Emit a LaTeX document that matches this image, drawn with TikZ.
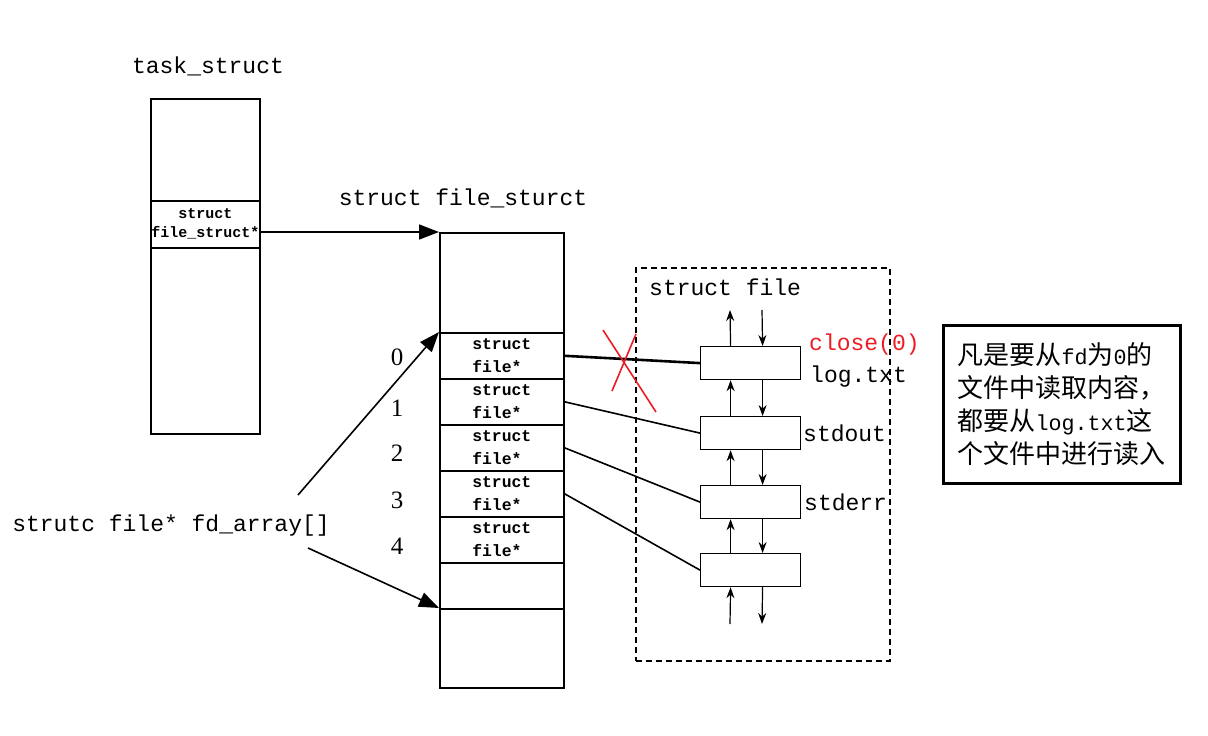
\documentclass[tikz,border=0pt]{standalone}
\usepackage{fontspec}
\setmainfont{Liberation Serif}
\setmonofont{Liberation Mono}
\newfontfamily\cjk{Noto Sans CJK SC}
\usetikzlibrary{arrows.meta}
\definecolor{crossred}{RGB}{237,28,36}
\newcommand{\mtxt}[1]{{\ttfamily\fontsize{21.7}{33}\selectfont #1}}
\tikzset{
  title/.style={inner sep=0pt, font=\ttfamily\fontsize{23}{26}\selectfont},
  idx/.style={inner sep=0pt, font=\fontsize{25}{28}\selectfont},
  tsbox/.style={draw, line width=1.6pt, anchor=north west, inner sep=0pt, minimum width=109},
  fsbox/.style={draw, line width=1.6pt, anchor=north west, inner sep=0pt, minimum width=124},
  fdcell/.style={align=left, font=\ttfamily\bfseries\fontsize{16.4}{23}\selectfont},
  sfbox/.style={draw, line width=1.2pt, anchor=north west, inner sep=0pt,
    minimum width=100, minimum height=33},
  big/.style={-{Triangle[length=20pt,width=15pt]}, line width=1.6pt},
  small/.style={-{Stealth[length=11pt,width=8pt]}, line width=1.2pt}
}
\begin{document}
\begin{tikzpicture}[x=1pt,y=-1pt]
  \useasboundingbox (0,0) rectangle (1208,736);

  % task_struct
  \node[title] (tslab) at (208,66) {task\_struct};
  \node[tsbox, minimum height=102] (tstop) at (150,98) {};
  \node[tsbox, minimum height=47, align=center,
    font=\ttfamily\bfseries\fontsize{15}{19}\selectfont] (tsfile) at (150,200) {struct\\file\_struct*};
  \node[tsbox, minimum height=186] (tsbot) at (150,247) {};

  % file_struct with fd_array
  \node[title] (fslab) at (463,198) {struct file\_sturct};
  \node[fsbox, minimum height=100] (fstop) at (439,232) {};
  \foreach \i in {0,...,4}
    \node[fsbox, fdcell, minimum height=46] (c\i) at (439,{332+46*\i}) {struct\\file*};
  \node[fsbox, minimum height=46] (c5) at (439,562) {};
  \node[fsbox, minimum height=79] (fsbot) at (439,608) {};
  \foreach \i/\y in {0/357,1/408,2/453,3/500,4/546}
    \node[idx] (n\i) at (397,\y) {\i};

  \draw[big] (tsfile.east |- fstop.north west) -- (fstop.north west);

  \node[title] (fdlab) at (171,526) {strutc file* fd\_array[]};
  \coordinate (fdup) at (298,495);
  \coordinate (fddn) at (308,548);
  \draw[big] (fdup) -- (c0.north west);
  \draw[big] (fddn) -- (fsbot.north west);

  % struct file
  \node[
    draw,
    dash pattern=on 6pt off 4pt,
    line width=1.6pt,
    anchor=north west,
    minimum width=254,
    minimum height=393
  ] (sfframe) at (635,267) {};
  \node[title, anchor=west] (sflab) at (649,287) {struct file};
  \foreach \i/\y in {0/346,1/416,2/485,3/553}
    \node[sfbox] (sf\i) at (700,\y) {};

  \coordinate (upout) at (730,310);
  \coordinate (dnin) at (762,310);
  \coordinate (upin) at (730,624);
  \coordinate (dnout) at (762,624);
  \draw[small] ([xshift=-20pt]sf0.north) -- (upout);
  \draw[small] (dnin) -- ([xshift=12pt]sf0.north);
  \foreach \a/\b in {0/1,1/2,2/3} {
    \draw[small] ([xshift=-20pt]sf\b.north) -- ([xshift=-20pt]sf\a.south);
    \draw[small] ([xshift=12pt]sf\a.south) -- ([xshift=12pt]sf\b.north);
  }
  \draw[small] (upin) -- ([xshift=-20pt]sf3.south);
  \draw[small] ([xshift=12pt]sf3.south) -- (dnout);

  \draw[line width=2.6pt] (c0.east) -- (sf0.west);
  \foreach \i in {1,2,3}
    \draw[line width=1.6pt] (c\i.east) -- (sf\i.west);

  \draw[crossred, line width=1.6pt] (603,330) -- (656,412) (612,391) -- (636,334);

  \node[title, anchor=west, text=crossred] (closelab) at (809,345) {close(0)};
  \node[title, anchor=west] (loglab) at (810,377) {log.txt};
  \node[title, anchor=west] (outlab) at (803,433) {stdout};
  \node[title, anchor=west] (errlab) at (804,502) {stderr};

  % note
  \node[
    draw,
    line width=3pt,
    minimum width=237,
    minimum height=158,
    align=left,
    font=\cjk\fontsize{26}{33}\selectfont
  ] (note) at (1061.5,404)
    {凡是要从\mtxt{fd}为\mtxt{0}的\\文件中读取内容，\\都要从\mtxt{log.txt}这\\个文件中进行读入};
\end{tikzpicture}
\end{document}
